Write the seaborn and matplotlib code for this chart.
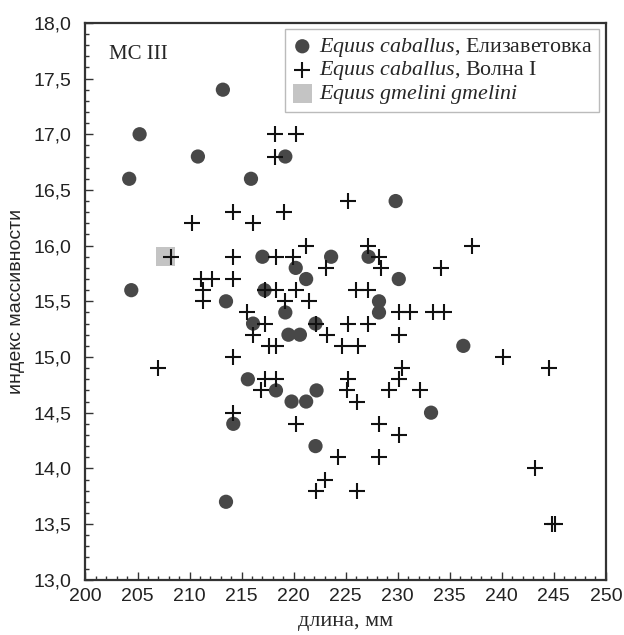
import matplotlib
matplotlib.use("Agg")
import matplotlib.pyplot as plt
import seaborn as sns
import pandas as pd
from matplotlib.ticker import MultipleLocator, FuncFormatter

# Equus caballus, Елизаветовка (circles)
eliz_x = [213.2, 205.2, 210.8, 219.2, 204.2, 215.9, 229.8, 217.0, 223.6, 227.2,
          220.2, 221.2, 230.1, 204.4, 217.2, 213.5, 228.2, 219.2, 228.2, 216.1,
          222.1, 219.5, 220.6, 236.3, 215.6, 218.3, 222.2, 219.8, 221.2, 233.2,
          214.2, 222.1, 213.5]
eliz_y = [17.4, 17.0, 16.8, 16.8, 16.6, 16.6, 16.4, 15.9, 15.9, 15.9,
          15.8, 15.7, 15.7, 15.6, 15.6, 15.5, 15.5, 15.4, 15.4, 15.3,
          15.3, 15.2, 15.2, 15.1, 14.8, 14.7, 14.7, 14.6, 14.6, 14.5,
          14.4, 14.2, 13.7]

# Equus caballus, Волна I (crosses)
volna_x = [218.2, 220.2, 218.2, 225.2, 214.2, 219.1, 210.2, 216.1, 221.2, 227.1,
           237.1, 208.2, 214.2, 218.3, 219.9, 228.2, 223.1, 228.4, 234.2, 211.1,
           212.2, 214.2, 211.3, 217.2, 218.3, 220.2, 226.0, 227.1, 211.3, 219.2,
           221.5, 215.5, 230.1, 231.2, 233.4, 234.4, 217.2, 222.1, 225.2, 227.1,
           216.1, 223.2, 230.1, 217.6, 218.3, 224.6, 226.2, 214.2, 240.1, 207.0,
           230.4, 244.5, 217.2, 218.3, 225.2, 230.1, 216.9, 225.1, 229.2, 232.1,
           226.1, 214.2, 220.2, 228.2, 230.1, 224.3, 228.2, 243.2, 223.0, 222.1,
           226.1, 244.8, 245.1]
volna_y = [17.0, 17.0, 16.8, 16.4, 16.3, 16.3, 16.2, 16.2, 16.0, 16.0,
           16.0, 15.9, 15.9, 15.9, 15.9, 15.9, 15.8, 15.8, 15.8, 15.7,
           15.7, 15.7, 15.6, 15.6, 15.6, 15.6, 15.6, 15.6, 15.5, 15.5,
           15.5, 15.4, 15.4, 15.4, 15.4, 15.4, 15.3, 15.3, 15.3, 15.3,
           15.2, 15.2, 15.2, 15.1, 15.1, 15.1, 15.1, 15.0, 15.0, 14.9,
           14.9, 14.9, 14.8, 14.8, 14.8, 14.8, 14.7, 14.7, 14.7, 14.7,
           14.6, 14.5, 14.4, 14.4, 14.3, 14.1, 14.1, 14.0, 13.9, 13.8,
           13.8, 13.5, 13.5]

# Equus gmelini gmelini (square)
gmel_x = [207.7]
gmel_y = [15.9]

labels = [r"$\it{Equus\ caballus}$, Елизаветовка",
          r"$\it{Equus\ caballus}$, Волна I",
          r"$\it{Equus\ gmelini\ gmelini}$"]

sns.set_style("white")
plt.rcParams["font.family"] = ["Liberation Serif", "DejaVu Serif"]
plt.rcParams["mathtext.fontset"] = "custom"
plt.rcParams["mathtext.it"] = "Liberation Serif:italic"
plt.rcParams["mathtext.rm"] = "Liberation Serif"

fig = plt.figure(figsize=(6.24, 6.35), dpi=100)
ax = fig.add_axes([0.137, 0.087, 0.834, 0.877])

eliz = pd.DataFrame({"x": eliz_x, "y": eliz_y})
volna = pd.DataFrame({"x": volna_x, "y": volna_y})
gmel = pd.DataFrame({"x": gmel_x, "y": gmel_y})

sns.scatterplot(data=gmel, x="x", y="y", marker="s", s=190, color="#c4c4c4",
                edgecolor="none", ax=ax, label=labels[2], zorder=2)
sns.scatterplot(data=eliz, x="x", y="y", marker="o", s=105, color="#484848",
                edgecolor="none", ax=ax, label=labels[0], zorder=3)
sns.scatterplot(data=volna, x="x", y="y", marker="+", s=135, color="#111111",
                linewidth=1.5, ax=ax, label=labels[1], zorder=4)

ax.set_xlim(200, 250)
ax.set_ylim(13, 18)
ax.xaxis.set_major_locator(MultipleLocator(5))
ax.xaxis.set_minor_locator(MultipleLocator(1))
ax.yaxis.set_major_locator(MultipleLocator(0.5))
ax.yaxis.set_minor_locator(MultipleLocator(0.1))
ax.yaxis.set_major_formatter(FuncFormatter(lambda v, p: f"{v:.1f}".replace(".", ",")))
ax.xaxis.set_major_formatter(FuncFormatter(lambda v, p: f"{v:.0f}"))

ax.tick_params(which="both", direction="in", left=True, bottom=True,
               top=False, right=False, color="#333333", width=1.0)
ax.tick_params(which="major", length=6, labelsize=14)
ax.tick_params(axis="y", which="major", pad=10)
ax.tick_params(axis="x", which="major", pad=6)
ax.tick_params(which="minor", length=3)
for lab in ax.get_xticklabels() + ax.get_yticklabels():
    lab.set_fontfamily(["Liberation Sans", "DejaVu Sans"])
    lab.set_color("#222222")
for sp in ax.spines.values():
    sp.set_visible(True)
    sp.set_linewidth(1.6)
    sp.set_color("#333333")

ax.set_xlabel("длина, мм", fontsize=16, labelpad=5)
ax.set_ylabel("индекс массивности", fontsize=14, labelpad=6,
              family=["Liberation Sans", "DejaVu Sans"])

ax.text(0.045, 0.96, "МС III", transform=ax.transAxes, fontsize=15,
        va="top", ha="left")

handles, labs = ax.get_legend_handles_labels()
order = [labs.index(l) for l in labels]
leg = ax.legend([handles[i] for i in order], [labs[i] for i in order],
                loc="upper right", fontsize=15.8, frameon=True, fancybox=False,
                borderaxespad=0.3, handletextpad=0.25, labelspacing=0.02,
                borderpad=0.3, handlelength=1.0, markerscale=1.0)
leg.get_frame().set_edgecolor("#aaaaaa")
leg.get_frame().set_linewidth(1.0)

fig.savefig("out.png", dpi=100)
